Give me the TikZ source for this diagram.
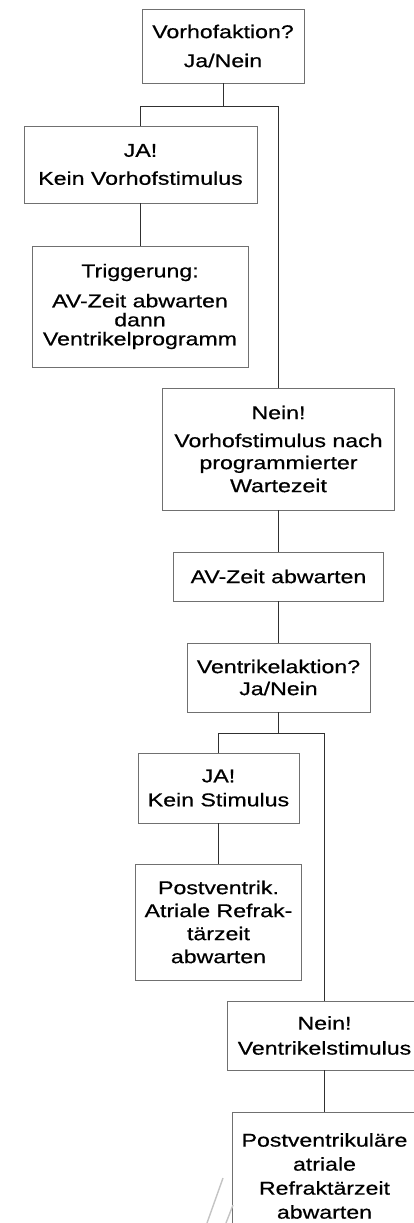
\documentclass[tikz,border=0pt]{standalone}
\usepackage{fontspec}
\setmainfont[FakeStretch=1.25,FakeBold=0.6]{Liberation Sans}
\definecolor{boxgray}{HTML}{707070}
\definecolor{linkgray}{HTML}{303030}
\definecolor{ghostgray}{HTML}{C4C4C4}
\newcommand{\boxfont}{\fontsize{18.5}{23}\selectfont}
\begin{document}
\begin{tikzpicture}[x=1pt,y=-1pt,
  box/.style={draw=boxgray, line width=0.9pt, inner sep=0pt, align=center, font=\boxfont, text=black},
  link/.style={draw=linkgray, line width=1pt},
  ghost/.style={draw=ghostgray, line width=1.4pt}]
\useasboundingbox (0,0) rectangle (414,1223);
\clip (0,0) rectangle (414,1223);
\fill[white] (0,0) rectangle (414,1223);
\node[box, minimum width=162pt, minimum height=74pt] (b1) at (223,46) {Vorhofaktion?\\[6pt]Ja/Nein};
\node[box, minimum width=233pt, minimum height=77pt] (b2) at (140.5,164.5) {JA!\\[5pt]Kein Vorhofstimulus};
\node[box, minimum width=216pt, minimum height=121pt] (b3) at (140,306.5) {Triggerung:\\[7pt]AV-Zeit abwarten\\[-4pt]dann\\[-4pt]Ventrikelprogramm};
\node[box, minimum width=232pt, minimum height=122pt] (b4) at (278.5,449) {Nein!\\[5pt]Vorhofstimulus nach\\[-1pt]programmierter\\Wartezeit};
\node[box, minimum width=210pt, minimum height=49pt] (b5) at (278.5,576.5) {AV-Zeit abwarten};
\node[box, minimum width=183pt, minimum height=69pt] (b6) at (278.5,677.5) {Ventrikelaktion?\\[-1pt]Ja/Nein};
\node[box, minimum width=161pt, minimum height=70pt] (b7) at (218.5,788) {JA!\\[1pt]Kein Stimulus};
\node[box, minimum width=166pt, minimum height=116pt] (b8) at (218.5,922) {Postventrik.\\Atriale Refrak-\\tärzeit\\abwarten};
\node[box, minimum width=194pt, minimum height=69pt] (b9) at (324.5,1035.5) {Nein!\\[2pt]Ventrikelstimulus};
\node[box, minimum width=184pt, minimum height=128pt] (b10) at (324.5,1176) {Postventrikuläre\\[1pt]atriale\\[1pt]Refraktärzeit\\[1pt]abwarten};
\coordinate (j1) at (223.5,106.5);
\coordinate (j2) at (278.5,733.5);
\draw[link] (b1.south -| j1) -- (j1);
\draw[link] (b2.north) |- (j1) -| (b4.north);
\draw[link] (b2.south) -- (b2.south |- b3.north);
\draw[link] (b4.south) -- (b5.north);
\draw[link] (b5.south) -- (b6.north);
\draw[link] (b6.south) -- (j2);
\draw[link] (b7.north) |- (j2) -| (b9.north);
\draw[link] (b7.south) -- (b8.north);
\draw[link] (b9.south) -- (b10.north);
\draw[ghost] (223,1178) -- (207,1223);
\draw[ghost] (233,1205) -- (226,1223);
\end{tikzpicture}
\end{document}
